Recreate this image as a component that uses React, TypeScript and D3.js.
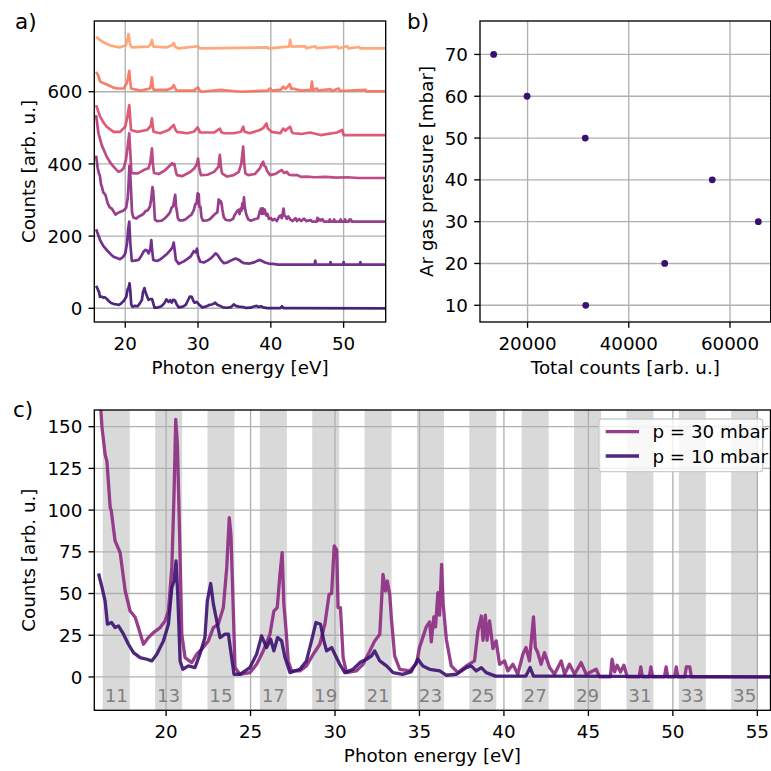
import React from "react";
import * as d3 from "d3";

type Pt = [number, number];

// ---------------- data ----------------
const pressures = [10, 20, 30, 40, 50, 60, 70];
const totalCounts = [31500, 47100, 65600, 56500, 31400, 19900, 13300];

const spec10: Pt[] = [[16.0,62],[16.21,53.5],[16.39,45.5],[16.53,31.6],[16.77,32.6],[16.98,29.6],[17.18,30.6],[17.48,25.6],[17.77,19.6],[18.07,14.6],[18.46,11.6],[18.86,10.6],[19.15,9.6],[19.45,13.6],[19.84,21.6],[20.14,31.6],[20.34,53.5],[20.47,57.5],[20.59,69.5],[20.69,49.5],[20.83,9.6],[20.99,4.6],[21.32,6.6],[21.71,5.6],[22.0,13.6],[22.3,23.6],[22.44,45.5],[22.64,56],[22.8,43.6],[23.0,33.6],[23.19,23.6],[23.49,25.6],[23.69,25.6],[23.88,11.6],[24.02,1.6],[24.37,1.6],[24.96,5.6],[25.36,13.6],[25.65,24.6],[25.95,17.6],[26.19,22.6],[26.38,15.6],[26.6,23.6],[26.84,21.6],[27.04,11.6],[27.33,2.6],[27.92,4.6],[28.31,9.6],[28.61,21.6],[28.87,32.6],[29.14,31.6],[29.34,21.6],[29.5,15.6],[29.8,17.6],[29.99,13.6],[30.28,7.6],[30.58,2.6],[31.07,4.6],[31.47,8.6],[31.86,10.6],[32.16,12.6],[32.35,15.6],[32.65,9.6],[33.05,6.6],[33.44,2.6],[34.0,1.5],[34.5,3],[34.91,10.6],[35.2,6.6],[35.6,4.6],[36.2,3.6],[36.6,1],[37.2,1.6],[37.77,5.6],[38.06,6.6],[38.36,3.6],[38.66,5.6],[38.95,2.6],[39.5,0.5],[41.3,0.5],[41.55,5.6],[41.75,0.5],[43.3,0.5],[55.78,0]];

const spec20: Pt[] = [[16.0,99],[16.55,69],[17.0,52],[17.46,41.5],[18.0,30],[18.39,23],[19.3,16],[19.7,22],[20.0,32],[20.25,60],[20.4,100],[20.55,120],[20.7,60],[20.9,11],[21.3,12],[21.83,14],[22.2,25],[22.52,37],[22.8,42],[22.98,40],[23.2,32],[23.45,45],[23.58,69],[23.7,40],[23.85,14],[24.35,11],[24.8,15],[25.27,23],[25.8,32],[26.2,41],[26.5,50],[26.66,62],[26.8,40],[26.95,14],[27.35,3],[28.04,10],[28.5,16],[28.96,23],[29.42,38],[29.65,35],[29.85,45],[30.0,25],[30.3,9],[30.8,7],[31.3,12],[31.72,18],[32.1,25],[32.41,32],[32.6,30],[32.87,22],[33.2,12],[33.56,5],[34.0,7],[34.48,12],[34.9,16],[35.17,18],[35.4,16],[35.63,14],[36.0,8],[36.32,5],[37.1,4],[37.8,8],[38.2,12],[38.5,14],[38.8,11],[39.2,7],[39.7,4],[40.3,3],[41.0,1],[42.0,1],[46.0,1],[46.1,12],[46.2,1],[48.1,1],[48.2,8],[48.3,1],[49.9,1],[50.0,8],[50.1,1],[52.2,1],[52.3,8],[52.4,1],[55.78,1]];

const spec30: Pt[] = [[16.0,183],[16.2,150],[16.39,133.4],[16.5,129],[16.69,101.5],[16.75,100],[16.98,81.5],[17.28,74.5],[17.58,51.5],[17.87,39.5],[18.17,35.8],[18.36,29.6],[18.66,19.6],[18.95,23.6],[19.25,26.6],[19.65,29.6],[19.94,33.6],[20.14,39.5],[20.34,65.5],[20.47,109.5],[20.57,154.4],[20.67,139.4],[20.79,89.5],[20.93,25.6],[21.12,11.6],[21.52,8.6],[21.81,13.6],[22.2,17.6],[22.5,21.6],[22.8,29.6],[23.09,31.6],[23.39,41.6],[23.59,65.5],[23.74,95.5],[23.84,85],[23.98,39.5],[24.08,5.6],[24.37,1.6],[24.96,2.6],[25.36,7.6],[25.75,15.6],[26.15,25.6],[26.38,39.5],[26.58,41.6],[26.74,61.5],[26.87,74.5],[26.97,43.6],[27.09,29.6],[27.23,9.6],[27.43,3.6],[27.92,3.6],[28.31,6.6],[28.71,13.6],[29.1,19.6],[29.4,31.6],[29.65,49.5],[29.8,50],[29.95,78.5],[30.1,76],[30.18,41.6],[30.32,41.6],[30.48,11.6],[30.68,2.6],[31.27,3.6],[31.66,7.6],[32.06,15.6],[32.35,21.6],[32.65,25.6],[32.84,61.5],[32.99,51.5],[33.1,57.5],[33.24,49.5],[33.34,34.6],[33.53,12.6],[33.83,4.6],[34.42,3.6],[34.82,8],[35.01,18],[35.21,24],[35.4,30],[35.6,33],[35.7,21],[35.85,36],[35.95,30],[36.09,50.5],[36.19,37],[36.31,67.5],[36.4,44],[36.59,22.6],[36.88,6.6],[37.28,2.6],[37.77,6.6],[38.26,9.6],[38.46,27.6],[38.66,36.5],[38.76,22],[38.9,37.1],[39.0,22],[39.15,33.6],[39.35,17],[39.54,21.6],[39.74,7.6],[40.04,9.6],[40.23,3.6],[40.53,7.6],[40.82,1.6],[41.12,13.6],[41.31,17.6],[41.51,9.6],[41.75,36],[41.86,17.6],[42.0,14.6],[42.2,7.6],[42.4,14.6],[42.7,5.6],[42.99,1.6],[43.39,9.6],[43.59,1.6],[43.88,7.6],[44.18,1.6],[44.57,8.6],[44.87,1.6],[45.46,4.6],[45.66,0],[46.3,0],[46.4,10.6],[46.55,3],[46.7,7],[46.9,3],[47.1,7],[47.3,0],[48.0,0],[48.1,6],[48.2,0],[48.6,0],[48.7,6],[48.8,0],[49.5,0],[49.6,6],[49.7,0],[50.1,0],[50.2,6],[50.3,0],[50.7,0],[50.8,6],[51.0,6],[51.1,0],[55.78,0]];

const spec40: Pt[] = [[16.0,175],[16.32,125],[16.77,92],[17.46,60],[18.0,42],[18.39,32.5],[19.08,18],[19.5,22],[19.77,28],[20.1,51],[20.35,90],[20.55,125],[20.7,70],[20.85,15],[21.3,14],[21.75,14],[22.52,23],[23.2,28],[23.45,45],[23.67,83],[23.8,40],[23.95,15],[24.6,12],[25.5,23],[26.1,35],[26.43,42],[26.6,38],[26.75,40],[27.0,15],[27.1,9],[27.8,6],[28.96,18],[29.5,28],[29.85,40],[30.0,55],[30.15,30],[30.4,9],[31.3,10],[32.2,18],[32.8,32],[33.0,65],[33.15,30],[33.3,14],[34.0,5],[34.9,9],[35.6,18],[35.94,40],[36.2,88],[36.35,40],[36.5,14],[36.9,9],[37.8,12],[38.5,28],[38.75,40],[38.96,46],[39.1,35],[39.3,32],[39.5,20],[39.9,9],[40.6,12],[41.05,18],[41.5,23],[41.8,15],[42.2,18],[42.5,10],[42.9,9],[43.6,9],[44.2,4],[44.9,5],[46.0,3],[47.5,4],[49.0,2],[50.5,3],[52.0,1],[55.78,1]];

const spec50: Pt[] = [[16.0,83],[16.55,51],[17.0,35],[17.46,23],[18.39,9],[19.3,9],[20.0,23],[20.3,51],[20.55,83],[20.7,40],[20.8,14],[21.6,9],[23.0,14],[23.5,25],[23.67,46],[23.8,20],[23.9,9],[24.8,5],[25.95,14],[26.66,28],[26.9,15],[27.1,9],[28.5,5],[29.4,9],[29.95,21],[30.3,7],[32.2,7],[33.0,18],[33.2,8],[33.6,5],[34.9,5],[35.9,9],[36.2,23],[36.4,9],[37.1,5],[38.5,14],[39.0,20],[39.4,32],[39.6,18],[40.1,9],[41.3,5],[41.7,18],[42.0,12],[42.3,18],[42.65,23],[42.9,8],[43.1,5],[44.2,3],[45.4,7],[46.8,0],[49.1,7],[49.8,14],[50.0,0],[55.78,0]];

const spec60: Pt[] = [[16.0,55],[16.3,45],[16.55,28],[17.2,22],[17.7,18],[18.3,12],[18.85,9],[19.8,9],[20.2,23],[20.4,40],[20.55,58],[20.7,25],[20.8,9],[22.1,3],[23.4,9],[23.55,22],[23.67,40],[23.8,12],[23.9,5],[25.7,5],[26.4,10],[26.66,18],[26.9,8],[27.1,3],[29.4,3],[30.0,12],[30.2,4],[30.5,0],[33.1,5],[35.9,0],[39.5,3],[39.9,9],[40.2,3],[41.4,6],[41.7,14],[42.0,8],[42.3,14],[42.6,21],[42.8,8],[43.0,9],[44.2,3],[45.5,5],[45.64,28],[45.8,4],[46.3,9],[46.5,3],[48.2,7],[48.4,2],[49.3,9],[49.5,2],[53.0,5],[53.1,1],[55.78,1]];

const spec70: Pt[] = [[16.0,32],[16.55,23],[17.2,15],[17.9,9],[18.6,5],[19.3,3],[20.1,9],[20.3,25],[20.45,40],[20.6,20],[20.7,9],[20.9,3],[23.2,5],[23.5,12],[23.67,24],[23.8,8],[23.9,5],[25.7,3],[26.4,8],[26.66,15],[26.9,4],[27.35,0],[30.0,6],[30.2,1],[30.8,0],[39.5,3],[39.7,0],[42.5,5],[42.65,24],[42.75,10],[42.9,5],[44.7,6],[44.9,1],[46.1,6],[46.3,1],[49.1,5],[49.3,0],[50.5,6],[50.7,0],[52.1,4],[52.3,0],[55.78,0]];

const spectra: Pt[][] = [spec10, spec20, spec30, spec40, spec50, spec60, spec70];
const offsetStep = 120;
const colorStops = [0.2, 0.3, 0.4, 0.5, 0.6, 0.7, 0.8];

const harmonicOrders = [11, 13, 15, 17, 19, 21, 23, 25, 27, 29, 31, 33, 35];
const fundamentalEV = 1.55;
const bandHalfWidth = 0.8;

const energyDomain: [number, number] = [15.75, 55.78];
const aYDomain: [number, number] = [-38, 796];
const bXDomain: [number, number] = [10600, 68050];
const bYDomain: [number, number] = [6, 78];
const cYDomain: [number, number] = [-20, 160];

const aXTicks = [20, 30, 40, 50];
const aYTicks = [0, 200, 400, 600];
const bXTicks = [20000, 40000, 60000];
const bYTicks = [10, 20, 30, 40, 50, 60, 70];
const cXTicks = [20, 25, 30, 35, 40, 45, 50, 55];
const cYTicks = [0, 25, 50, 75, 100, 125, 150];

const legendEntries = [
  { label: "p = 30 mbar", idx: 2 },
  { label: "p = 10 mbar", idx: 0 },
];

// ---------------- drawing ----------------
const FONT = "DejaVu Sans, Verdana, sans-serif";
const FS = 18.3;
const TICK = 5.8;
const LW = 1.34;
const GRID = "#b0b0b0";

type Box = { l: number; r: number; t: number; b: number };
type Sc = d3.ScaleLinear<number, number>;

function Grid({ box, x, y, xt, yt }: { box: Box; x: Sc; y: Sc; xt: number[]; yt: number[] }) {
  return (
    <g>
      {xt.map((v) => (
        <line key={"gx" + v} x1={x(v)} x2={x(v)} y1={box.t} y2={box.b} stroke={GRID} strokeWidth={LW} />
      ))}
      {yt.map((v) => (
        <line key={"gy" + v} x1={box.l} x2={box.r} y1={y(v)} y2={y(v)} stroke={GRID} strokeWidth={LW} />
      ))}
    </g>
  );
}

function Frame({ box, x, y, xt, yt, xlabel, ylabel, ylabelX }: { box: Box; x: Sc; y: Sc; xt: number[]; yt: number[]; xlabel: string; ylabel: string; ylabelX: number }) {
  return (
    <g fontFamily={FONT} fontSize={FS} fill="#000">
      <rect x={box.l} y={box.t} width={box.r - box.l} height={box.b - box.t} fill="none" stroke="#000" strokeWidth={LW} />
      {xt.map((v) => (
        <g key={"tx" + v}>
          <line x1={x(v)} x2={x(v)} y1={box.b} y2={box.b + TICK} stroke="#000" strokeWidth={LW} />
          <text x={x(v)} y={box.b + 27.5} textAnchor="middle">{String(v)}</text>
        </g>
      ))}
      {yt.map((v) => (
        <g key={"ty" + v}>
          <line x1={box.l - TICK} x2={box.l} y1={y(v)} y2={y(v)} stroke="#000" strokeWidth={LW} />
          <text x={box.l - 12} y={y(v)} dy="0.36em" textAnchor="end">{String(v)}</text>
        </g>
      ))}
      <text x={(box.l + box.r) / 2} y={box.b + 52} textAnchor="middle">{xlabel}</text>
      <text transform={`translate(${ylabelX},${(box.t + box.b) / 2}) rotate(-90)`} textAnchor="middle">{ylabel}</text>
    </g>
  );
}

export default function App() {
  const A: Box = { l: 94.3, r: 385.7, t: 21, b: 322 };
  const B: Box = { l: 480, r: 770.7, t: 21, b: 322 };
  const C: Box = { l: 94.3, r: 770.5, t: 410, b: 710.3 };

  const xa = d3.scaleLinear().domain(energyDomain).range([A.l, A.r]);
  const ya = d3.scaleLinear().domain(aYDomain).range([A.b, A.t]);
  const xb = d3.scaleLinear().domain(bXDomain).range([B.l, B.r]);
  const yb = d3.scaleLinear().domain(bYDomain).range([B.b, B.t]);
  const xc = d3.scaleLinear().domain(energyDomain).range([C.l, C.r]);
  const yc = d3.scaleLinear().domain(cYDomain).range([C.b, C.t]);

  const colors = colorStops.map((t) => d3.interpolateMagma(t));

  const lineA = (data: Pt[], off: number) =>
    d3.line<Pt>().x((d) => xa(d[0])).y((d) => ya(d[1] + off))(data) || "";
  const lineC = d3.line<Pt>().x((d) => xc(d[0])).y((d) => yc(d[1]));

  const cOrder = [2, 0];

  return (
    <svg width={771} height={771} style={{ position: "absolute", left: 0, top: 0, display: "block", background: "#fff" }}>
      <defs>
        <clipPath id="clipA"><rect x={A.l} y={A.t} width={A.r - A.l} height={A.b - A.t} /></clipPath>
        <clipPath id="clipC"><rect x={C.l} y={C.t} width={C.r - C.l} height={C.b - C.t} /></clipPath>
      </defs>
      <rect x={0} y={0} width={771} height={771} fill="#fff" />

      {/* Panel a */}
      <Grid box={A} x={xa} y={ya} xt={aXTicks} yt={aYTicks} />
      <g clipPath="url(#clipA)">
        {spectra.map((s, i) => (
          <path key={"a" + i} d={lineA(s, i * offsetStep)} fill="none" stroke={colors[i]} strokeWidth={2.7} strokeOpacity={0.9} strokeLinejoin="round" />
        ))}
      </g>
      <Frame box={A} x={xa} y={ya} xt={aXTicks} yt={aYTicks} xlabel="Photon energy [eV]" ylabel="Counts [arb. u.]" ylabelX={35} />

      {/* Panel b */}
      <Grid box={B} x={xb} y={yb} xt={bXTicks} yt={bYTicks} />
      <g>
        {pressures.map((p, i) => (
          <circle key={"b" + i} cx={xb(totalCounts[i])} cy={yb(p)} r={3.4} fill={colors[0]} />
        ))}
      </g>
      <Frame box={B} x={xb} y={yb} xt={bXTicks} yt={bYTicks} xlabel="Total counts [arb. u.]" ylabel="Ar gas pressure [mbar]" ylabelX={433} />

      {/* Panel c */}
      <g clipPath="url(#clipC)">
        {harmonicOrders.map((n) => (
          <rect key={"band" + n} x={xc(n * fundamentalEV - bandHalfWidth)} y={C.t} width={xc(n * fundamentalEV + bandHalfWidth) - xc(n * fundamentalEV - bandHalfWidth)} height={C.b - C.t} fill="#d9d9d9" />
        ))}
      </g>
      <Grid box={C} x={xc} y={yc} xt={cXTicks} yt={cYTicks} />
      <g fontFamily={FONT} fontSize={FS} fill="#808080" clipPath="url(#clipC)">
        {harmonicOrders.map((n) => (
          <text key={"hl" + n} x={xc(n * fundamentalEV)} y={C.b - 8} textAnchor="middle">{String(n)}</text>
        ))}
      </g>
      <g clipPath="url(#clipC)">
        {cOrder.map((i) => (
          <path key={"c" + i} d={lineC(spectra[i]) || ""} fill="none" stroke={colors[i]} strokeWidth={3.3} strokeOpacity={0.9} strokeLinejoin="round" />
        ))}
      </g>
      <Frame box={C} x={xc} y={yc} xt={cXTicks} yt={cYTicks} xlabel="Photon energy [eV]" ylabel="Counts [arb. u.]" ylabelX={35} />

      {/* Legend */}
      <g fontFamily={FONT} fontSize={FS}>
        <rect x={599} y={419} width={163.7} height={52.7} rx={3} fill="#fff" fillOpacity={0.8} stroke="#cccccc" strokeWidth={LW} />
        {legendEntries.map((e, k) => (
          <g key={"lg" + k}>
            <line x1={605.7} x2={639} y1={431.7 + k * 24.3} y2={431.7 + k * 24.3} stroke={colors[e.idx]} strokeWidth={3.3} strokeOpacity={0.9} />
            <text x={652.4} y={431.7 + k * 24.3} dy="0.36em" fill="#000">{e.label}</text>
          </g>
        ))}
      </g>

      {/* Panel labels */}
      <g fontFamily={FONT} fontSize={21.5} fill="#000">
        <text x={15} y={28.5}>a)</text>
        <text x={407} y={28.5}>b)</text>
        <text x={13} y={416.7}>c)</text>
      </g>
    </svg>
  );
}
